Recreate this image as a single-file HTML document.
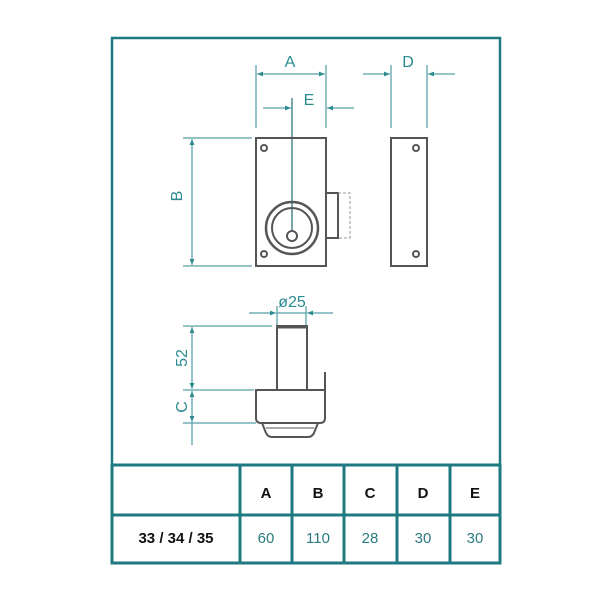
<!DOCTYPE html>
<html><head><style>body{margin:0;background:#fff}svg{display:block}</style></head><body>
<svg width="600" height="600" viewBox="0 0 600 600" xmlns="http://www.w3.org/2000/svg">
<defs>
<marker id="ar" viewBox="0 0 10 10" refX="10" refY="5" markerWidth="10" markerHeight="6" orient="auto-start-reverse" markerUnits="userSpaceOnUse"><path d="M0,1 L10,5 L0,9 z" fill="#2a8a90"/></marker>
</defs>
<rect x="112" y="38" width="388" height="525" fill="none" stroke="#1e7a80" stroke-width="2.5"/>
<g stroke="#2a8a90" stroke-width="1" fill="none">
<line x1="256" y1="65" x2="256" y2="128"/><line x1="326" y1="65" x2="326" y2="128"/>
<line x1="257" y1="74" x2="325" y2="74" marker-start="url(#ar)" marker-end="url(#ar)"/>
<line x1="263" y1="108" x2="291" y2="108" marker-end="url(#ar)"/>
<line x1="354" y1="108" x2="327" y2="108" marker-end="url(#ar)"/>
<line x1="326" y1="98" x2="326" y2="108"/>
<line x1="391" y1="65" x2="391" y2="128"/><line x1="427" y1="65" x2="427" y2="128"/>
<line x1="363" y1="74" x2="390" y2="74" marker-end="url(#ar)"/>
<line x1="455" y1="74" x2="428" y2="74" marker-end="url(#ar)"/>
<line x1="183" y1="138" x2="252" y2="138"/><line x1="183" y1="266" x2="252" y2="266"/>
<line x1="192" y1="139" x2="192" y2="265" marker-start="url(#ar)" marker-end="url(#ar)"/>
<line x1="277" y1="306" x2="277" y2="326"/><line x1="306" y1="306" x2="306" y2="326"/>
<line x1="249" y1="313" x2="276" y2="313" marker-end="url(#ar)"/>
<line x1="333" y1="313" x2="307" y2="313" marker-end="url(#ar)"/>
<line x1="277" y1="313" x2="306" y2="313"/>
<line x1="183" y1="326" x2="272" y2="326"/><line x1="183" y1="390" x2="254" y2="390"/><line x1="183" y1="423" x2="256" y2="423"/>
<line x1="192" y1="327" x2="192" y2="389" marker-start="url(#ar)" marker-end="url(#ar)"/>
<line x1="192" y1="391" x2="192" y2="422" marker-start="url(#ar)" marker-end="url(#ar)"/>
<line x1="192" y1="423" x2="192" y2="445"/>
</g>
<g stroke="#1e6a70" stroke-width="1.2"><line x1="292" y1="98" x2="292" y2="232"/></g>
<g fill="#2a8a90" font-family="Liberation Sans, sans-serif" font-size="16">
<text x="290" y="67" text-anchor="middle">A</text>
<text x="309" y="105" text-anchor="middle">E</text>
<text x="408" y="67" text-anchor="middle">D</text>
<text x="292" y="307" text-anchor="middle">ø25</text>
<text transform="translate(182,196) rotate(-90)" text-anchor="middle">B</text>
<text transform="translate(187,358) rotate(-90)" text-anchor="middle">52</text>
<text transform="translate(187,407) rotate(-90)" text-anchor="middle">C</text>
</g>
<g stroke="#555" stroke-width="2" fill="none">
<rect x="256" y="138" width="70" height="128"/>
<circle cx="264" cy="148" r="3"/><circle cx="264" cy="254" r="3"/>
<circle cx="292" cy="228" r="26" stroke-width="2.5"/><circle cx="292" cy="228" r="20"/>
<circle cx="292" cy="236" r="5"/>
<rect x="326" y="193" width="12" height="45"/>
<rect x="391" y="138" width="36" height="128"/>
<circle cx="416" cy="148" r="3"/><circle cx="416" cy="254" r="3"/>
<rect x="277" y="326" width="30" height="64"/>
<path d="M256,390 H325 V418 Q325,423 320,423 H261 Q256,423 256,418 Z"/>
<line x1="325" y1="372" x2="325" y2="390"/>
<path d="M262,423 L266,433 Q268,437 272,437 H308 Q312,437 314,433 L318,423"/>
<line x1="266" y1="428" x2="314" y2="428" stroke-width="1"/>
</g>
<line x1="277" y1="327" x2="307" y2="327" stroke="#555" stroke-width="3"/>
<g stroke="#999" stroke-width="1" stroke-dasharray="3,2" fill="none"><path d="M338,193 H350 V238 H338"/></g>
<g stroke="#1e7a80" stroke-width="3" fill="none">
<rect x="112" y="465" width="388" height="98"/>
<line x1="112" y1="515" x2="500" y2="515"/>
<line x1="240" y1="465" x2="240" y2="563"/><line x1="292" y1="465" x2="292" y2="563"/>
<line x1="344" y1="465" x2="344" y2="563"/><line x1="397" y1="465" x2="397" y2="563"/>
<line x1="450" y1="465" x2="450" y2="563"/>
</g>
<g font-family="Liberation Sans, sans-serif" font-weight="bold" font-size="15" fill="#111" text-anchor="middle">
<text x="266" y="498">A</text><text x="318" y="498">B</text><text x="370" y="498">C</text><text x="423" y="498">D</text><text x="475" y="498">E</text>
<text x="176" y="543">33 / 34 / 35</text>
</g>
<g font-family="Liberation Sans, sans-serif" font-size="15" fill="#2a7a80" text-anchor="middle">
<text x="266" y="543">60</text><text x="318" y="543">110</text><text x="370" y="543">28</text><text x="423" y="543">30</text><text x="475" y="543">30</text>
</g>
</svg>
</body></html>
